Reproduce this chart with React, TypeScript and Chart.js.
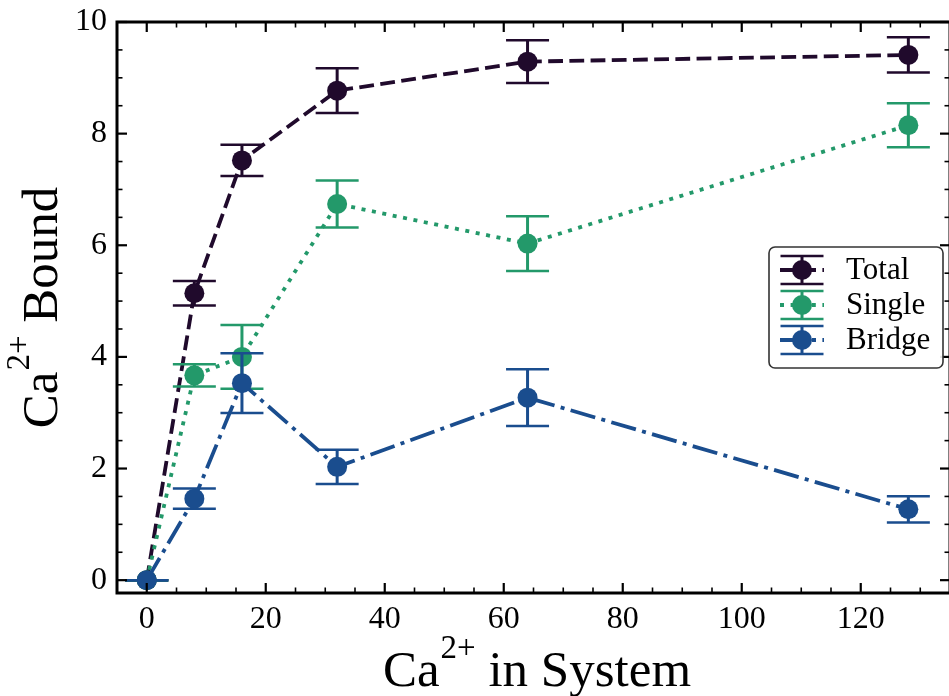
import React, { useEffect, useRef } from "react";
import { Chart, registerables } from "chart.js";

Chart.register(...registerables);

// Ca2+ added to the system, and the mean number bound (with standard errors)
const calcium = [0, 8, 16, 32, 64, 128];
const totalBound = [0, 5.14, 7.52, 8.77, 9.29, 9.41];
const totalErr = [0, 0.22, 0.28, 0.4, 0.385, 0.315];
const singleBound = [0, 3.67, 4.0, 6.74, 6.03, 8.15];
const singleErr = [0, 0.2, 0.57, 0.42, 0.49, 0.395];
const bridgeBound = [0, 1.46, 3.53, 2.03, 3.27, 1.27];
const bridgeErr = [0, 0.18, 0.535, 0.305, 0.51, 0.235];

const seriesLabels = ["Total", "Single", "Bridge"];
const xTickValues = [0, 20, 40, 60, 80, 100, 120];
const yTickValues = [0, 2, 4, 6, 8, 10];
const xTitleParts = ["Ca", "2+", " in System"];
const yTitleParts = ["Ca", "2+", " Bound"];

const CANVAS_W = 960;
const CANVAS_H = 696;
const SERIF = "'Liberation Serif', 'DejaVu Serif', serif";

const seriesList = [
  { label: seriesLabels[0], values: totalBound, errors: totalErr, color: "#200a2c", dash: [14.8, 6.4] },
  { label: seriesLabels[1], values: singleBound, errors: singleErr, color: "#23996a", dash: [4, 6.6] },
  { label: seriesLabels[2], values: bridgeBound, errors: bridgeErr, color: "#1a4d8e", dash: [25.6, 6.4, 4, 6.4] },
];

const CAP_HALF = 21.5;
const LINE_W = 3.8;
const MARKER_R = 10;

function strokeLine(ctx: CanvasRenderingContext2D, x1: number, y1: number, x2: number, y2: number) {
  ctx.beginPath();
  ctx.moveTo(x1, y1);
  ctx.lineTo(x2, y2);
  ctx.stroke();
}

// Vertical error bars with caps, drawn just beneath each series' line and markers
const errorBarPlugin = {
  id: "errorBars",
  beforeDatasetDraw(chart: any, args: any) {
    const s = seriesList[args.index];
    if (!s) return;
    const { ctx } = chart;
    const xs = chart.scales.x;
    const ys = chart.scales.y;
    ctx.save();
    ctx.setLineDash([]);
    ctx.strokeStyle = s.color;
    ctx.lineCap = "butt";
    calcium.forEach((cx: number, i: number) => {
      const px = xs.getPixelForValue(cx);
      const top = ys.getPixelForValue(s.values[i] + s.errors[i]);
      const bot = ys.getPixelForValue(s.values[i] - s.errors[i]);
      ctx.lineWidth = 3;
      strokeLine(ctx, px, top, px, bot);
      ctx.lineWidth = 2.5;
      strokeLine(ctx, px - CAP_HALF, top, px + CAP_HALF, top);
      strokeLine(ctx, px - CAP_HALF, bot, px + CAP_HALF, bot);
    });
    ctx.restore();
  },
};

// Box spines with inward major and minor ticks on all four sides
const framePlugin = {
  id: "frame",
  afterDatasetsDraw(chart: any) {
    const { ctx, chartArea } = chart;
    const { left, right, top, bottom } = chartArea;
    const xs = chart.scales.x;
    const ys = chart.scales.y;
    ctx.save();
    ctx.setLineDash([]);
    ctx.strokeStyle = "#000";
    ctx.lineCap = "butt";

    const MAJOR = 10;
    const MINOR = 5.5;
    const xStep = xTickValues[1] - xTickValues[0];
    const yStep = yTickValues[1] - yTickValues[0];

    const xTick = (v: number, len: number, w: number) => {
      const p = xs.getPixelForValue(v);
      if (p < left - 0.5 || p > right + 0.5) return;
      ctx.lineWidth = w;
      strokeLine(ctx, p, bottom, p, bottom - len);
      strokeLine(ctx, p, top, p, top + len);
    };
    const yTick = (v: number, len: number, w: number) => {
      const p = ys.getPixelForValue(v);
      if (p < top - 0.5 || p > bottom + 0.5) return;
      ctx.lineWidth = w;
      strokeLine(ctx, left, p, left + len, p);
      strokeLine(ctx, right, p, right - len, p);
    };

    for (let v = xTickValues[0] - xStep; v <= xs.max; v += xStep / 4) {
      const isMajor = xTickValues.includes(v);
      if (v < xs.min) continue;
      xTick(v, isMajor ? MAJOR : MINOR, isMajor ? 2.2 : 1.6);
    }
    for (let v = yTickValues[0] - yStep; v <= ys.max + 1e-9; v += yStep / 4) {
      const r = Math.round(v * 100) / 100;
      if (r < ys.min) continue;
      const isMajor = yTickValues.includes(r);
      yTick(r, isMajor ? MAJOR : MINOR, isMajor ? 2.2 : 1.6);
    }

    ctx.lineWidth = 3;
    ctx.strokeRect(left, top, right - left, bottom - top);
    ctx.restore();
  },
};

function drawSupText(
  ctx: CanvasRenderingContext2D,
  parts: string[],
  size: number,
  supSize: number,
  raise: number
) {
  const main = `${size}px ${SERIF}`;
  const small = `${supSize}px ${SERIF}`;
  ctx.font = main;
  const w1 = ctx.measureText(parts[0]).width;
  const w3 = ctx.measureText(parts[2]).width;
  ctx.font = small;
  const w2 = ctx.measureText(parts[1]).width;
  const total = w1 + w2 + w3 + 1;
  let x = -total / 2;
  ctx.textBaseline = "alphabetic";
  ctx.textAlign = "left";
  ctx.font = main;
  ctx.fillText(parts[0], x, 0);
  x += w1 + 1;
  ctx.font = small;
  ctx.fillText(parts[1], x, -raise);
  x += w2;
  ctx.font = main;
  ctx.fillText(parts[2], x, 0);
}

const axisTitlePlugin = {
  id: "axisTitles",
  afterDraw(chart: any) {
    const { ctx, chartArea } = chart;
    ctx.save();
    ctx.fillStyle = "#000";
    ctx.translate(537, 686);
    drawSupText(ctx, xTitleParts, 51, 33, 28);
    ctx.restore();

    ctx.save();
    ctx.fillStyle = "#000";
    ctx.translate(57, (chartArea.top + chartArea.bottom) / 2);
    ctx.rotate(-Math.PI / 2);
    drawSupText(ctx, yTitleParts, 51, 33, 28);
    ctx.restore();
  },
};

// Legend with error-bar handles
const legendPlugin = {
  id: "errorLegend",
  afterDraw(chart: any) {
    const { ctx } = chart;
    const bx = 769, by = 247, bw = 174, bh = 121, r = 6;
    ctx.save();
    ctx.setLineDash([]);
    ctx.beginPath();
    ctx.moveTo(bx + r, by);
    ctx.arcTo(bx + bw, by, bx + bw, by + bh, r);
    ctx.arcTo(bx + bw, by + bh, bx, by + bh, r);
    ctx.arcTo(bx, by + bh, bx, by, r);
    ctx.arcTo(bx, by, bx + bw, by, r);
    ctx.closePath();
    ctx.fillStyle = "rgba(255,255,255,0.9)";
    ctx.fill();
    ctx.lineWidth = 1.6;
    ctx.strokeStyle = "#333";
    ctx.stroke();

    const hx1 = 780, hx2 = 824, hc = 802;
    seriesList.forEach((s, i) => {
      const cy = 270 + i * 35;
      ctx.strokeStyle = s.color;
      ctx.fillStyle = s.color;
      ctx.lineCap = "butt";
      // series line
      ctx.lineWidth = LINE_W;
      ctx.setLineDash(s.dash);
      ctx.lineDashOffset = 0;
      strokeLine(ctx, hx1, cy, hx2, cy);
      ctx.setLineDash([]);
      // error bar glyph
      ctx.lineWidth = 3;
      strokeLine(ctx, hc, cy - 14, hc, cy + 14);
      ctx.lineWidth = 2.5;
      strokeLine(ctx, hc - CAP_HALF, cy - 14, hc + CAP_HALF, cy - 14);
      strokeLine(ctx, hc - CAP_HALF, cy + 14, hc + CAP_HALF, cy + 14);
      // marker
      ctx.beginPath();
      ctx.arc(hc, cy, MARKER_R, 0, Math.PI * 2);
      ctx.fill();
      // label
      ctx.fillStyle = "#000";
      ctx.font = `31px ${SERIF}`;
      ctx.textAlign = "left";
      ctx.textBaseline = "middle";
      ctx.fillText(s.label, 846, cy + 1);
    });
    ctx.restore();
  },
};

export default function App() {
  const canvasRef = useRef<HTMLCanvasElement | null>(null);

  useEffect(() => {
    const canvas = canvasRef.current;
    if (!canvas) return;

    const datasets = seriesList.map((s, i) => ({
      label: s.label,
      data: calcium.map((cx, j) => ({ x: cx, y: s.values[j] })),
      borderColor: s.color,
      backgroundColor: s.color,
      borderWidth: LINE_W,
      borderDash: s.dash,
      borderCapStyle: "butt" as const,
      pointRadius: MARKER_R,
      pointHoverRadius: MARKER_R,
      pointBorderWidth: 0,
      pointBackgroundColor: s.color,
      tension: 0,
      fill: false,
      order: seriesList.length - i,
    }));

    const chart = new Chart(canvas, {
      type: "line",
      data: { datasets },
      options: {
        animation: false,
        responsive: false,
        maintainAspectRatio: false,
        devicePixelRatio: 1,
        layout: { padding: { top: 22, right: 3, left: 0, bottom: 0 } },
        plugins: {
          legend: { display: false },
          tooltip: { enabled: false },
        },
        scales: {
          x: {
            type: "linear",
            min: -5,
            max: 135,
            grid: { display: false, drawTicks: false },
            border: { display: false },
            afterBuildTicks: (scale: any) => {
              scale.ticks = xTickValues.map((v) => ({ value: v }));
            },
            afterFit: (scale: any) => {
              scale.height = CANVAS_H - 593;
              scale.paddingLeft = 0;
              scale.paddingRight = 0;
            },
            ticks: {
              autoSkip: false,
              maxRotation: 0,
              padding: 7,
              color: "#000",
              font: { family: SERIF, size: 32 },
              callback: (v: any) => String(v),
            },
          },
          y: {
            type: "linear",
            min: -0.23,
            max: 10,
            grid: { display: false, drawTicks: false },
            border: { display: false },
            afterBuildTicks: (scale: any) => {
              scale.ticks = yTickValues.map((v) => ({ value: v }));
            },
            afterFit: (scale: any) => {
              scale.width = 117;
              scale.paddingTop = 0;
              scale.paddingBottom = 0;
            },
            ticks: {
              autoSkip: false,
              padding: 10,
              color: "#000",
              font: { family: SERIF, size: 32 },
              callback: (v: any) => String(v),
            },
          },
        },
      },
      plugins: [errorBarPlugin, framePlugin, axisTitlePlugin, legendPlugin],
    });

    return () => chart.destroy();
  }, []);

  return (
    <div
      style={{
        position: "absolute",
        left: 0,
        top: 0,
        width: 949,
        height: 696,
        overflow: "hidden",
        background: "#fff",
      }}
    >
      <canvas
        ref={canvasRef}
        width={CANVAS_W}
        height={CANVAS_H}
        style={{ display: "block", width: CANVAS_W, height: CANVAS_H }}
      />
    </div>
  );
}
